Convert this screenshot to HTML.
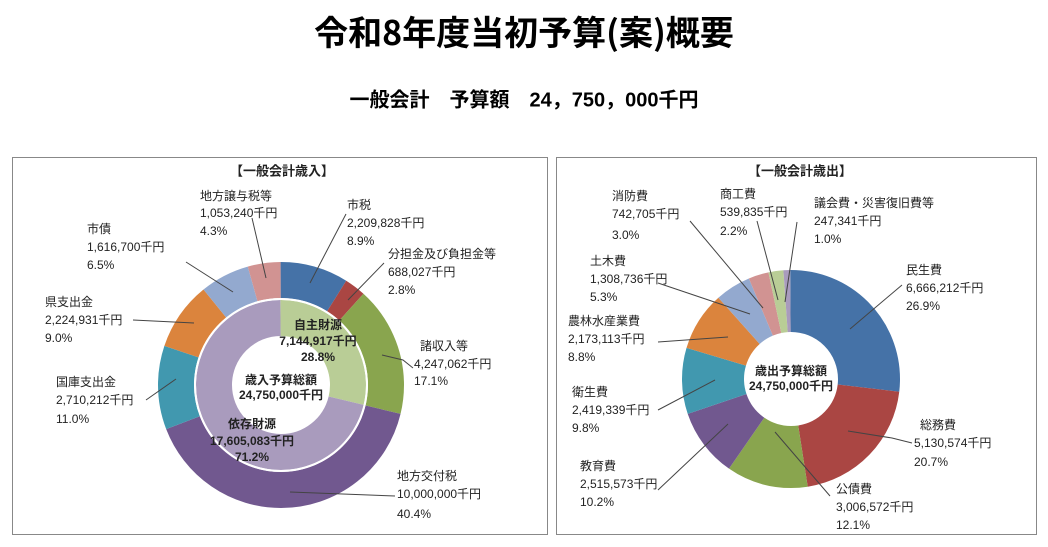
<!DOCTYPE html>
<html><head><meta charset="utf-8"><style>
body{margin:0;width:1048px;height:542px;background:#fff;overflow:hidden;font-family:"Liberation Sans","Noto Sans CJK JP",sans-serif}
svg text{font-family:"Liberation Sans","Noto Sans CJK JP",sans-serif;fill:#222;font-size:12px;dominant-baseline:middle}
</style></head><body>
<svg width="1048" height="542" xmlns="http://www.w3.org/2000/svg">
<text x="524" y="36" text-anchor="middle" style="font-size:34px;font-weight:bold;fill:#000;font-family:'Noto Sans CJK JP',sans-serif">令和8年度当初予算(案)概要</text>
<text x="524" y="101" text-anchor="middle" style="font-size:20px;font-weight:bold;fill:#000">一般会計　予算額　24，750，000千円</text>
<rect x="12.5" y="157.5" width="535" height="377" fill="none" stroke="#888"/>
<rect x="556.5" y="157.5" width="480" height="377" fill="none" stroke="#888"/>
<text x="282" y="172" text-anchor="middle" style="font-weight:bold;font-size:13px">【一般会計歳入】</text>
<text x="800" y="172" text-anchor="middle" style="font-weight:bold;font-size:13px">【一般会計歳出】</text>

<g transform="translate(281,385) rotate(-90)" fill="none" stroke-width="36">
<circle r="105" pathLength="100" stroke="#4572A7" stroke-dasharray="8.9 91.1" stroke-dashoffset="0"/>
<circle r="105" pathLength="100" stroke="#AA4643" stroke-dasharray="2.8 97.2" stroke-dashoffset="-8.9"/>
<circle r="105" pathLength="100" stroke="#89A54E" stroke-dasharray="17.1 82.9" stroke-dashoffset="-11.7"/>
<circle r="105" pathLength="100" stroke="#71588F" stroke-dasharray="40.4 59.6" stroke-dashoffset="-28.8"/>
<circle r="105" pathLength="100" stroke="#4198AF" stroke-dasharray="11 89" stroke-dashoffset="-69.2"/>
<circle r="105" pathLength="100" stroke="#DB843D" stroke-dasharray="9 91" stroke-dashoffset="-80.2"/>
<circle r="105" pathLength="100" stroke="#93A9CF" stroke-dasharray="6.5 93.5" stroke-dashoffset="-89.2"/>
<circle r="105" pathLength="100" stroke="#D19392" stroke-dasharray="4.3 95.7" stroke-dashoffset="-95.7"/>
<circle r="67" pathLength="100" stroke="#B9CD96" stroke-width="36" stroke-dasharray="28.8 71.2"/>
<circle r="67" pathLength="100" stroke="#A99BBD" stroke-width="36" stroke-dasharray="71.2 28.8" stroke-dashoffset="-28.8"/>
<circle r="86" stroke="#fff" stroke-width="2"/>
</g>
<g transform="translate(791,379) rotate(-90)" fill="none" stroke-width="62">
<circle r="78" pathLength="100" stroke="#4572A7" stroke-dasharray="26.9 73.1"/>
<circle r="78" pathLength="100" stroke="#AA4643" stroke-dasharray="20.7 79.3" stroke-dashoffset="-26.9"/>
<circle r="78" pathLength="100" stroke="#89A54E" stroke-dasharray="12.1 87.9" stroke-dashoffset="-47.6"/>
<circle r="78" pathLength="100" stroke="#71588F" stroke-dasharray="10.2 89.8" stroke-dashoffset="-59.7"/>
<circle r="78" pathLength="100" stroke="#4198AF" stroke-dasharray="9.8 90.2" stroke-dashoffset="-69.9"/>
<circle r="78" pathLength="100" stroke="#DB843D" stroke-dasharray="8.8 91.2" stroke-dashoffset="-79.7"/>
<circle r="78" pathLength="100" stroke="#93A9CF" stroke-dasharray="5.3 94.7" stroke-dashoffset="-88.5"/>
<circle r="78" pathLength="100" stroke="#D19392" stroke-dasharray="3 97" stroke-dashoffset="-93.8"/>
<circle r="78" pathLength="100" stroke="#B9CD96" stroke-dasharray="2.2 97.8" stroke-dashoffset="-96.8"/>
<circle r="78" pathLength="100" stroke="#A99BBD" stroke-dasharray="1 99" stroke-dashoffset="-99"/>
</g>

<g stroke="#444" stroke-width="1" fill="none">
<path d="M346,214 L310,283"/><path d="M384,263 L348,300"/><path d="M413,368 L403,360 L382,355"/>
<path d="M395,496 L290,492"/><path d="M146,400 L176,379"/><path d="M133,320 L194,323"/>
<path d="M186,262 L233,292"/><path d="M252,218 L266,278"/>
<path d="M797,222 L785,302"/><path d="M757,221 L778,300"/><path d="M690,221 L763,308"/>
<path d="M658,283 L750,314"/><path d="M902,285 L850,329"/><path d="M658,342 L728,337"/>
<path d="M658,410 L715,380"/><path d="M912,443 L892,438 L848,431"/><path d="M658,490 L728,424"/>
<path d="M830,496 L775,432"/>
</g>

<g style="font-weight:bold;font-size:11px" text-anchor="middle">
<text x="318" y="326">自主財源</text><text x="318" y="342">7,144,917千円</text><text x="318" y="358">28.8%</text>
<text x="281" y="381">歳入予算総額</text><text x="281" y="396">24,750,000千円</text>
<text x="252" y="425">依存財源</text><text x="252" y="442">17,605,083千円</text><text x="252" y="458">71.2%</text>
<text x="791" y="372">歳出予算総額</text><text x="791" y="387">24,750,000千円</text>
</g>

<g>
<text x="200" y="197">地方譲与税等</text><text x="200" y="214">1,053,240千円</text><text x="200" y="232">4.3%</text>
<text x="347" y="206">市税</text><text x="347" y="224">2,209,828千円</text><text x="347" y="242">8.9%</text>
<text x="388" y="255">分担金及び負担金等</text><text x="388" y="273">688,027千円</text><text x="388" y="291">2.8%</text>
<text x="87" y="230">市債</text><text x="87" y="248">1,616,700千円</text><text x="87" y="266">6.5%</text>
<text x="45" y="303">県支出金</text><text x="45" y="321">2,224,931千円</text><text x="45" y="339">9.0%</text>
<text x="420" y="347">諸収入等</text><text x="414" y="365">4,247,062千円</text><text x="414" y="382">17.1%</text>
<text x="56" y="383">国庫支出金</text><text x="56" y="401">2,710,212千円</text><text x="56" y="420">11.0%</text>
<text x="397" y="477">地方交付税</text><text x="397" y="495">10,000,000千円</text><text x="397" y="515">40.4%</text>

<text x="612" y="197">消防費</text><text x="612" y="215">742,705千円</text><text x="612" y="236">3.0%</text>
<text x="720" y="195">商工費</text><text x="720" y="213">539,835千円</text><text x="720" y="232">2.2%</text>
<text x="814" y="204">議会費・災害復旧費等</text><text x="814" y="222">247,341千円</text><text x="814" y="240">1.0%</text>
<text x="590" y="262">土木費</text><text x="590" y="280">1,308,736千円</text><text x="590" y="298">5.3%</text>
<text x="906" y="271">民生費</text><text x="906" y="289">6,666,212千円</text><text x="906" y="307">26.9%</text>
<text x="568" y="322">農林水産業費</text><text x="568" y="340">2,173,113千円</text><text x="568" y="358">8.8%</text>
<text x="572" y="393">衛生費</text><text x="572" y="411">2,419,339千円</text><text x="572" y="429">9.8%</text>
<text x="920" y="426">総務費</text><text x="914" y="444">5,130,574千円</text><text x="914" y="463">20.7%</text>
<text x="580" y="467">教育費</text><text x="580" y="485">2,515,573千円</text><text x="580" y="503">10.2%</text>
<text x="836" y="490">公債費</text><text x="836" y="508">3,006,572千円</text><text x="836" y="526">12.1%</text>
</g>
</svg>
</body></html>
